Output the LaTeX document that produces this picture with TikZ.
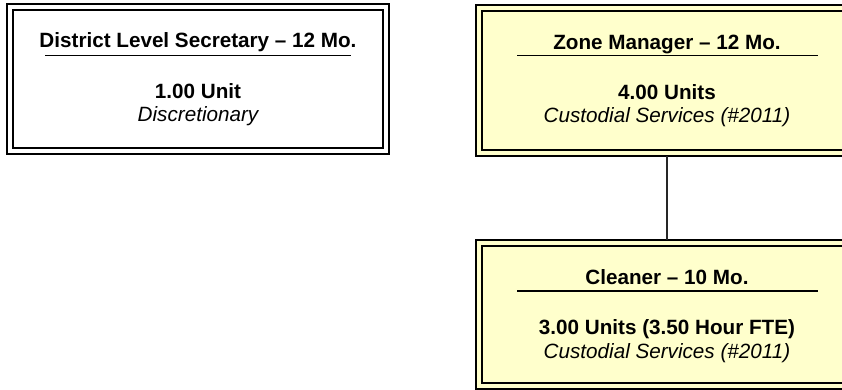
\documentclass[tikz,border=0pt]{standalone}
\usepackage{fontspec}
\setmainfont{Liberation Sans}
\begin{document}
\begin{tikzpicture}[x=0.75pt,y=-0.75pt,
  boxout/.style={draw=black, line width=0.9pt, fill=#1, rectangle, inner sep=0pt, outer sep=0pt},
  boxin/.style={draw=black, line width=1.3pt, rectangle, inner sep=0pt, outer sep=0pt},
  titletext/.style={anchor=base, font=\fontsize{15.5}{18}\selectfont\bfseries, inner sep=0pt},
  unittext/.style={anchor=base, font=\fontsize{15.5}{18}\selectfont\bfseries, inner sep=0pt},
  progtext/.style={anchor=base, font=\fontsize{15.5}{18}\selectfont\itshape, inner sep=0pt},
  rule/.style={line width=1.1pt},
  link/.style={draw=black!85, line width=1.1pt}]
\useasboundingbox (0,0) rectangle (842,389);
\clip (0,0) rectangle (842,389);
\definecolor{paleyellow}{HTML}{FFFFCC}
% left box
\node[boxout=white, minimum width=286.5pt, minimum height=112.5pt] (dls) at (198,79) {};
\node[boxin, minimum width=277.5pt, minimum height=103.5pt] (dlsin) at (198,79) {};
\node[titletext] (dlst) at (198,47) {District Level Secretary – 12 Mo.};
\draw[rule] (45,55.5) -- (351,55.5);
\node[unittext] (dlsu) at (198,98.5) {1.00 Unit};
\node[progtext] (dlsp) at (198,121) {Discretionary};
% zone manager
\node[boxout=paleyellow, minimum width=286.5pt, minimum height=113.25pt] (zm) at (667,80.5) {};
\node[boxin, minimum width=277.5pt, minimum height=104.25pt] (zmin) at (667,80.5) {};
\node[titletext] (zmt) at (667,49) {Zone Manager – 12 Mo.};
\draw[rule] (517,55.5) -- (818,55.5);
\node[unittext] (zmu) at (667,99) {4.00 Units};
\node[progtext] (zmp) at (667,122.5) {Custodial Services (\#2011)};
% cleaner
\node[boxout=paleyellow, minimum width=286.5pt, minimum height=111.75pt] (cl) at (667,314.5) {};
\node[boxin, minimum width=277.5pt, minimum height=102.75pt] (clin) at (667,314.5) {};
\node[titletext] (clt) at (667,284) {Cleaner – 10 Mo.};
\draw[rule] (517,291) -- (818,291);
\node[unittext] (clu) at (667,334.5) {3.00 Units (3.50 Hour FTE)};
\node[progtext] (clp) at (667,358.5) {Custodial Services (\#2011)};
% connector
\draw[link] (zm.south) -- (cl.north);
\end{tikzpicture}
\end{document}
